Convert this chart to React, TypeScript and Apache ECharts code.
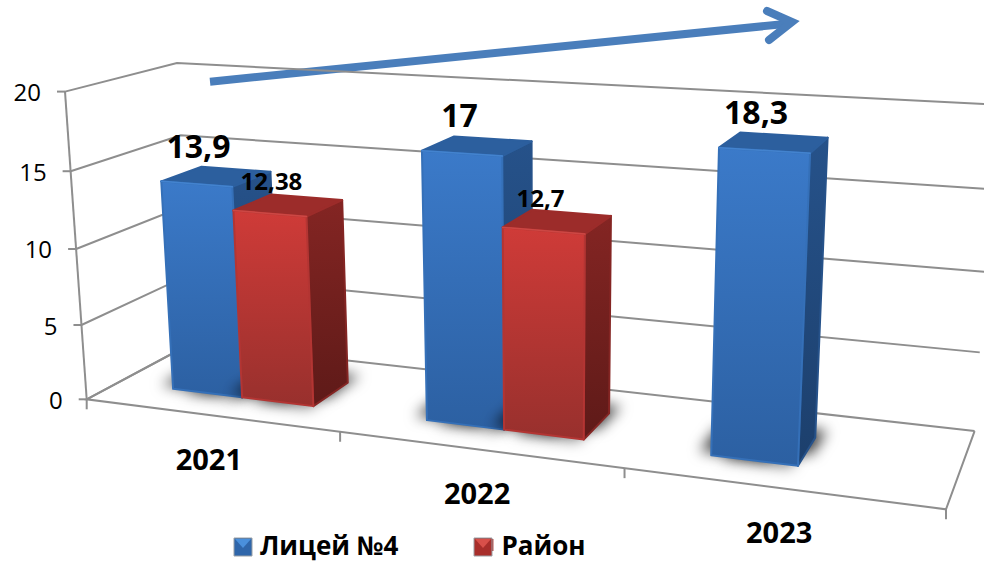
import React, { useEffect, useRef } from "react";
import * as echarts from "echarts";

const categories = ["2021", "2022", "2023"];
const yTicks = [0, 5, 10, 15, 20];
const seriesLyceumName = "Лицей №4";
const seriesDistrictName = "Район";
const lyceumValues = [13.9, 17, 18.3];
const districtValues = [12.38, 12.7, null];

const FONT = '"Open Sans", sans-serif';
const Y_MAX = 20;
const N_CAT = 3;

// Perspective camera of the 3D box: u = category units, d = depth 0..1, v = value
const A = [86.7, 399.3];
const G = [946, 509.3];
const B = [65, 91.6];
const C = [192, 343];
const WU = -0.0545;
const WD = 0.104;
const WV20 = -0.045;
const PU = [(G[0] * (1 + 3 * WU) - A[0]) / 3, (G[1] * (1 + 3 * WU) - A[1]) / 3];
const PD = [C[0] * (1 + WD) - A[0], C[1] * (1 + WD) - A[1]];
const PV = [(B[0] * (1 + WV20) - A[0]) / 20, (B[1] * (1 + WV20) - A[1]) / 20];

function project(u: number, d: number, v: number): number[] {
  const w = 1 + WU * u + WD * d + (WV20 / 20) * v;
  return [
    (A[0] + u * PU[0] + d * PD[0] + v * PV[0]) / w,
    (A[1] + u * PU[1] + d * PD[1] + v * PV[1]) / w,
  ];
}

// Reads the library's own axis scales, then hands over to the perspective
function toBox(params: any, api: any, cat: number, val: number) {
  const cs = params.coordSys;
  const p = api.coord([cat, val]);
  return {
    u: ((p[0] - cs.x) / cs.width) * N_CAT,
    v: ((cs.y + cs.height - p[1]) / cs.height) * Y_MAX,
  };
}

const GRID_COLOR = "#8e8e8e";
const gridLine = { stroke: GRID_COLOR, lineWidth: 2, fill: "none" };
const linGrad = (a: string, b: string, x2 = 0, y2 = 1) =>
  new echarts.graphic.LinearGradient(0, 0, x2, y2, [
    { offset: 0, color: a },
    { offset: 1, color: b },
  ]);

const D0 = 0.284;
const D1 = 0.665;
const BAR_W = 0.283;

function barSeries(
  name: string,
  values: (number | null)[],
  startOffset: number,
  pal: any,
  labelFont: number,
  labelDx: number,
  labelDy: number,
) {
  return {
    type: "custom",
    name,
    coordinateSystem: "cartesian2d",
    encode: { x: 0, y: 1 },
    clip: false,
    silent: true,
    itemStyle: { color: pal.legend },
    data: values.map((v, i) => [i, v === null ? NaN : v]),
    renderItem(params: any, api: any) {
      const val = api.value(1);
      if (val === null || val === undefined || isNaN(val)) return null;
      const { u, v } = toBox(params, api, api.value(0), val);
      const u0 = u + startOffset;
      const u1 = u0 + BAR_W;
      const fbl = project(u0, D0, 0);
      const fbr = project(u1, D0, 0);
      const bbr = project(u1, D1, 0);
      const ftl = project(u0, D0, v);
      const ftr = project(u1, D0, v);
      const btr = project(u1, D1, v);
      const btl = project(u0, D1, v);
      const topC = project((u0 + u1) / 2, (D0 + D1) / 2, v);
      const pad = 0.03;
      const shadowPts = [
        project(u0 + pad, D0 + pad, 0),
        project(u1 - pad, D0 + pad, 0),
        project(u1 - pad, D1 - pad, 0),
        project(u0 + pad, D1 - pad, 0),
      ];
      const shadowLayer = (ox: number, oy: number, alpha: number) => ({
        type: "polygon",
        shape: { points: shadowPts },
        style: {
          fill: "#666666",
          shadowBlur: 14,
          shadowColor: `rgba(0,0,0,${alpha})`,
          shadowOffsetX: ox,
          shadowOffsetY: oy,
        },
      });
      const face = (points: number[][], fill: any, stroke: any) => ({
        type: "polygon",
        shape: { points },
        style: { fill, stroke, lineWidth: 2, lineJoin: "round" },
      });
      return {
        type: "group",
        children: [
          shadowLayer(-22, -3, 0.75),
          shadowLayer(22, -8, 0.75),
          shadowLayer(0, 5, 0.5),
          face([ftr, btr, bbr, fbr], linGrad(pal.sideTop, pal.sideBottom), pal.sideTop),
          face([ftl, ftr, btr, btl], pal.top, pal.top),
          face([ftl, ftr, fbr, fbl], linGrad(pal.frontTop, pal.frontBottom), pal.frontMid),
          {
            type: "line",
            shape: { x1: ftl[0], y1: ftl[1], x2: ftr[0], y2: ftr[1] },
            style: { stroke: pal.edge, lineWidth: 1.5, lineCap: "round", opacity: 0.7 },
          },
          {
            type: "text",
            x: topC[0] + labelDx,
            y: topC[1] + labelDy,
            style: {
              text: String(val).replace(".", ","),
              font: `bold ${labelFont}px ${FONT}`,
              fill: "#000000",
              align: "center",
              verticalAlign: "middle",
            },
          },
        ],
      };
    },
  };
}

const yAxisSeries = {
  type: "custom",
  name: "yFrame",
  coordinateSystem: "cartesian2d",
  encode: { x: 0, y: 1 },
  clip: false,
  silent: true,
  z: 1,
  data: yTicks.map((t) => [0, t]),
  renderItem(params: any, api: any) {
    const val = api.value(1);
    const { v } = toBox(params, api, 0, val);
    const a = project(0, 0, v);
    const b = project(0, 1, v);
    const c = project(N_CAT, 1, v);
    return {
      type: "group",
      children: [
        { type: "polyline", shape: { points: [a, b, c] }, style: gridLine },
        { type: "line", shape: { x1: a[0] - 8, y1: a[1], x2: a[0], y2: a[1] }, style: gridLine },
        {
          type: "text",
          x: a[0] - 24,
          y: a[1],
          style: {
            text: String(val),
            font: `24px ${FONT}`,
            fill: "#000000",
            align: "right",
            verticalAlign: "middle",
          },
        },
      ],
    };
  },
};

const xAxisSeries = {
  type: "custom",
  name: "xFrame",
  coordinateSystem: "cartesian2d",
  encode: { x: 0, y: 1 },
  clip: false,
  silent: true,
  z: 1,
  data: categories.map((_, i) => [i, 0]),
  renderItem(params: any, api: any) {
    const i = api.value(0);
    const { u } = toBox(params, api, i, 0);
    const tickAt = (uu: number) => {
      const p = project(uu, 0, 0);
      return { type: "line", shape: { x1: p[0], y1: p[1], x2: p[0], y2: p[1] + 10 }, style: gridLine };
    };
    const lab = project(u, 0, 0);
    const children: any[] = [
      tickAt(u - 0.5),
      {
        type: "text",
        x: lab[0] - 1,
        y: lab[1] + 43,
        style: {
          text: categories[i],
          font: `bold 29px ${FONT}`,
          fill: "#000000",
          align: "center",
          verticalAlign: "middle",
        },
      },
    ];
    if (i === N_CAT - 1) {
      children.push(tickAt(u + 0.5));
      children.push({
        type: "polyline",
        shape: {
          points: [project(0, 1, 0), project(0, 0, 0), project(N_CAT, 0, 0), project(N_CAT, 1, 0)],
        },
        style: gridLine,
      });
      children.push({
        type: "line",
        shape: {
          x1: project(0, 0, 0)[0], y1: project(0, 0, 0)[1],
          x2: project(0, 0, Y_MAX)[0], y2: project(0, 0, Y_MAX)[1],
        },
        style: gridLine,
      });
    }
    return { type: "group", children };
  },
};

const bluePalette = {
  legend: "#2f66aa",
  frontTop: "#3b7ac9",
  frontBottom: "#2c60a2",
  frontMid: "#3570b8",
  top: "#2c5f9e",
  sideTop: "#26528a",
  sideBottom: "#1c3f6c",
  edge: "#4a8bd8",
};
const redPalette = {
  legend: "#a82e2b",
  frontTop: "#cf3b38",
  frontBottom: "#98302d",
  frontMid: "#b33533",
  top: "#9c2c2a",
  sideTop: "#842523",
  sideBottom: "#5e1a18",
  edge: "#d9504c",
};

const arrowStyle = { stroke: "#4a7ebb", lineWidth: 8, lineCap: "round", lineJoin: "miter", fill: "none" };

function legendCube(x: number, light: string, dark: string) {
  const y = 538;
  const s = 18;
  return {
    type: "group",
    silent: true,
    z: 30,
    children: [
      { type: "rect", z: 30, shape: { x, y, width: s, height: s }, style: { fill: dark, stroke: "#9aa0a6", lineWidth: 1 } },
      {
        type: "polygon",
        z: 31,
        shape: { points: [[x + 1, y + 1], [x + s - 1, y + 1], [x + s / 2, y + s * 0.55]] },
        style: { fill: light },
      },
    ],
  };
}

export default function App() {
  const ref = useRef<HTMLDivElement>(null);
  useEffect(() => {
    if (!ref.current) return;
    const chart = echarts.init(ref.current, undefined, { renderer: "svg" });
    chart.setOption({
      animation: false,
      backgroundColor: "#ffffff",
      grid: { left: 0, right: 0, top: 0, bottom: 0, containLabel: false },
      xAxis: { type: "category", data: categories, show: false },
      yAxis: { type: "value", min: 0, max: Y_MAX, interval: 5, show: false },
      legend: {
        left: 234,
        top: 532,
        padding: 0,
        z: 5,
        itemWidth: 18,
        itemHeight: 12,
        itemGap: 77,
        icon: "rect",
        selectedMode: false,
        data: [seriesLyceumName, seriesDistrictName],
        textStyle: { fontFamily: FONT, fontWeight: "bold", fontSize: 26, lineHeight: 26, color: "#000000", padding: [0, 0, 0, 3] },
      },
      series: [
        yAxisSeries,
        xAxisSeries,
        barSeries(seriesLyceumName, lyceumValues, -0.271, bluePalette, 32, -18, -31),
        barSeries(seriesDistrictName, districtValues, 0.012, redPalette, 24, -17, -24.5),
      ],
      graphic: [
        {
          type: "group",
          silent: true,
          z: 20,
          children: [
            { type: "line", shape: { x1: 210, y1: 81.7, x2: 785, y2: 24 }, style: { ...arrowStyle, lineCap: "butt" } },
            { type: "polyline", shape: { points: [[767, 11], [792, 22], [769, 40]] }, style: arrowStyle },
          ],
        },
        legendCube(234, "#4a90dc", "#2f66aa"),
        legendCube(474, "#d8504a", "#a82e2b"),
      ],
    });
    return () => chart.dispose();
  }, []);
  return <div ref={ref} style={{ position: "fixed", left: 0, top: 0, width: 984, height: 563 }} />;
}
